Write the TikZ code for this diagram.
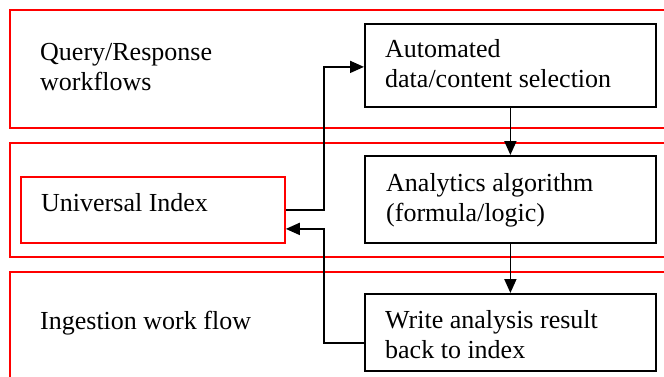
\documentclass[tikz,border=0pt]{standalone}
\usepackage{fontspec}
\setmainfont{Liberation Serif}
\usetikzlibrary{arrows.meta,calc}
\tikzset{
  lane/.style={draw=red, line width=1.8pt, rectangle, anchor=north west, inner sep=0pt},
  stepbox/.style={draw=black, line width=1.8pt, rectangle, anchor=north west, inner sep=0pt},
  idxbox/.style={draw=red, line width=1.8pt, rectangle, anchor=north west, inner sep=0pt},
  lbl/.style={anchor=base west, inner sep=0pt, align=left, font=\fontsize{26}{30}\selectfont},
  arr/.style={line width=1.8pt, -{Triangle[length=14pt,width=12pt]}},
}
\begin{document}
\begin{tikzpicture}[x=1pt,y=-1pt]
\path[use as bounding box, clip] (0,0) rectangle (664,376);
\fill[white] (0,0) rectangle (664,376);
% lanes
\node[lane, minimum width=700pt, minimum height=118pt] (lane1) at (9,9) {};
\node[lane, minimum width=700pt, minimum height=114pt] (lane2) at (9,142) {};
\node[lane, minimum width=700pt, minimum height=140pt] (lane3) at (9,271) {};
% boxes
\node[stepbox, minimum width=291pt, minimum height=83pt] (auto) at (364,23) {};
\node[stepbox, minimum width=291pt, minimum height=87pt] (ana) at (364,155) {};
\node[stepbox, minimum width=291pt, minimum height=77pt] (write) at (364,293) {};
\node[idxbox, minimum width=264pt, minimum height=66pt] (ui) at (20,176) {};
% texts (anchor at baseline of last line)
\node[lbl] (t1) at (40,90) {Query/Response\\workflows};
\node[lbl] (t2) at (41,211) {Universal Index};
\node[lbl] (t3) at (40,329) {Ingestion work flow};
\node[lbl] (ta) at (385,87) {Automated\\data/content selection};
\node[lbl] (tb) at (386,221) {Analytics algorithm\\(formula/logic)};
\node[lbl] (tc) at (385,358) {Write analysis result\\back to index};
% connectors
\coordinate (jx) at (324,0);
\coordinate (a1) at ($(auto.west)+(0,1.5)$);
\coordinate (w1) at ($(write.west)+(0,10.5)$);
\coordinate (u1) at ($(ui.east)+(0,19)$);
\draw[arr] (ui.east) -- (ui.east -| jx) |- (a1);
\draw[arr] (auto.south) -- (ana.north);
\draw[arr] (ana.south) -- (write.north);
\draw[arr] (w1) -- (w1 -| jx) |- (u1);
\end{tikzpicture}
\end{document}
